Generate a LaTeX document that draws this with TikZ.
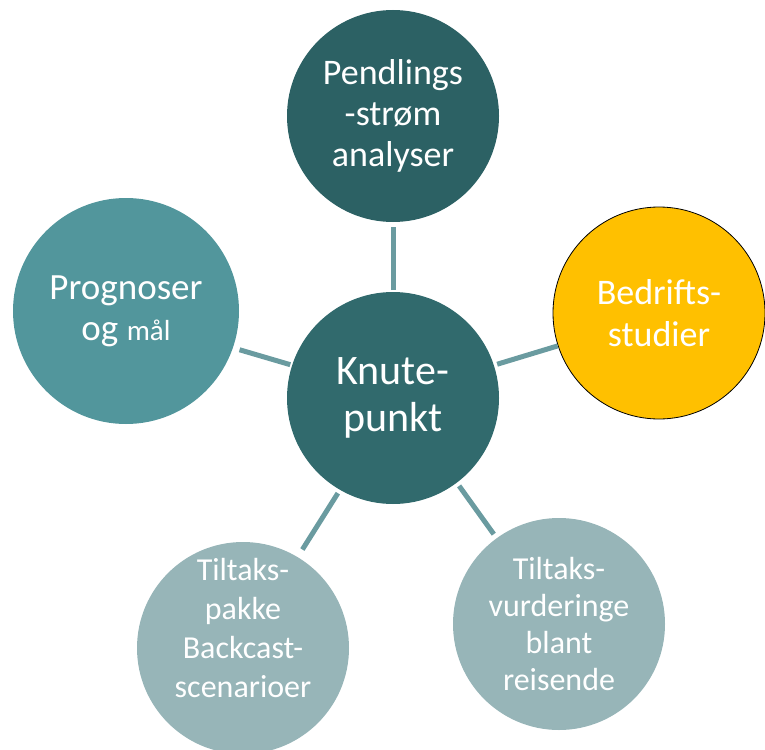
\documentclass[tikz,border=0pt]{standalone}
\usepackage{fontspec}
\setmainfont{Carlito}
\definecolor{topc}{HTML}{2C6164}
\definecolor{cenc}{HTML}{316A6D}
\definecolor{leftc}{HTML}{52969C}
\definecolor{lightc}{HTML}{97B5B8}
\definecolor{yelc}{HTML}{FFC000}
\definecolor{connc}{HTML}{6A9BA0}
\tikzset{
  circ/.style={circle, minimum size=212pt, inner sep=0pt, outer sep=0pt, text=white, align=center},
  conn/.style={draw=connc, line width=5pt},
  lbl/.style={text=white, align=center}
}
\begin{document}
\begin{tikzpicture}[x=1pt,y=-1pt]
\useasboundingbox (0,0) rectangle (765,749);
\node[circ, fill=topc, font=\fontsize{36}{41}\selectfont] (top) at (393,116) {Pendlings\\-strøm\\analyser};
\node[circ, fill=cenc, font=\fontsize{42}{47}\selectfont] (c) at (393,398) {Knute-\\punkt};
\node[circ, fill=yelc, draw=black, line width=0.8pt, font=\fontsize{36}{42}\selectfont] (Y) at (659,313) {Bedrifts-\\studier};
\node[circ, fill=leftc, minimum size=226pt, font=\fontsize{37}{41}\selectfont] (L) at (126,311) {Prognoser\\og {\fontsize{29}{41}\selectfont mål}};
\node[circ, fill=lightc, label={[lbl, font=\fontsize{32}{39}\selectfont, yshift=20pt]center:Tiltaks-\\pakke\\Backcast-\\scenarioer}] (BL) at (243,648) {};
\node[circ, fill=lightc, font=\fontsize{32}{37}\selectfont] (BR) at (559,624) {Tiltaks-\\vurderinge\\blant\\reisende};
\draw[conn, shorten <=2pt, shorten >=5pt] (c.90) -- (top.270);
\draw[conn, shorten <=2pt, shorten >=7pt] (c.162) -- (L.-19);
\draw[conn, shorten <=3.5pt, shorten >=0.5pt] (c.18.6) -- (Y.-162.6);
\draw[conn, shorten <=4pt, shorten >=9pt] (c.-120.5) -- (BL.59);
\draw[conn, shorten <=4pt, shorten >=5pt] (c.-53.9) -- (BR.126.6);
\end{tikzpicture}
\end{document}
